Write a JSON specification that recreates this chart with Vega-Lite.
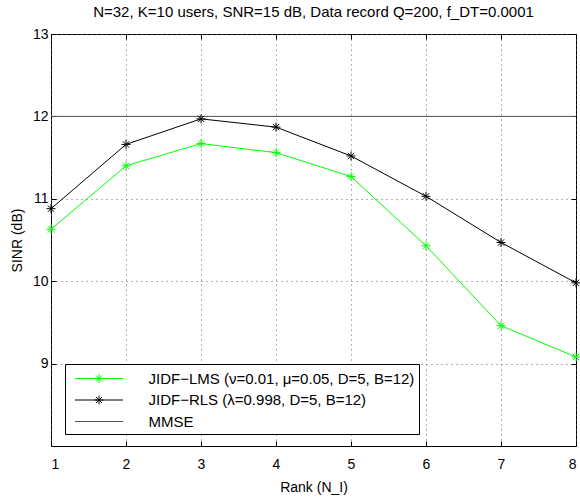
{
  "$schema": "https://vega.github.io/schema/vega-lite/v6.json",
  "width": 525,
  "height": 412,
  "autosize": {"type": "none"},
  "padding": {"left": 51, "top": 34, "right": 4, "bottom": 53},
  "background": "white",
  "title": {
    "text": "N=32, K=10 users, SNR=15 dB, Data record Q=200, f_DT=0.0001",
    "font": "Liberation Sans",
    "fontSize": 15,
    "fontWeight": "normal",
    "color": "black",
    "anchor": "middle",
    "offset": 7
  },
  "config": {
    "font": "Liberation Sans",
    "view": {"stroke": "black", "strokeWidth": 1},
    "axis": {
      "labelFont": "Liberation Sans",
      "labelFontSize": 14,
      "labelColor": "black",
      "titleFont": "Liberation Sans",
      "titleFontSize": 14,
      "titleFontWeight": "normal",
      "titleColor": "black",
      "domain": false,
      "tickColor": "black",
      "tickSize": -5,
      "gridColor": "#666666",
      "gridDash": [1, 4],
      "gridOpacity": 1,
      "gridWidth": 1
    }
  },
  "data": {
    "values": [
      {"rank": 1, "series": "JIDF−LMS (ν=0.01, μ=0.05, D=5, B=12)", "v": 10.63},
      {"rank": 2, "series": "JIDF−LMS (ν=0.01, μ=0.05, D=5, B=12)", "v": 11.40},
      {"rank": 3, "series": "JIDF−LMS (ν=0.01, μ=0.05, D=5, B=12)", "v": 11.67},
      {"rank": 4, "series": "JIDF−LMS (ν=0.01, μ=0.05, D=5, B=12)", "v": 11.56},
      {"rank": 5, "series": "JIDF−LMS (ν=0.01, μ=0.05, D=5, B=12)", "v": 11.27},
      {"rank": 6, "series": "JIDF−LMS (ν=0.01, μ=0.05, D=5, B=12)", "v": 10.43},
      {"rank": 7, "series": "JIDF−LMS (ν=0.01, μ=0.05, D=5, B=12)", "v": 9.46},
      {"rank": 8, "series": "JIDF−LMS (ν=0.01, μ=0.05, D=5, B=12)", "v": 9.08},
      {"rank": 1, "series": "JIDF−RLS (λ=0.998, D=5, B=12)", "v": 10.88},
      {"rank": 2, "series": "JIDF−RLS (λ=0.998, D=5, B=12)", "v": 11.66},
      {"rank": 3, "series": "JIDF−RLS (λ=0.998, D=5, B=12)", "v": 11.97},
      {"rank": 4, "series": "JIDF−RLS (λ=0.998, D=5, B=12)", "v": 11.87},
      {"rank": 5, "series": "JIDF−RLS (λ=0.998, D=5, B=12)", "v": 11.52},
      {"rank": 6, "series": "JIDF−RLS (λ=0.998, D=5, B=12)", "v": 11.03},
      {"rank": 7, "series": "JIDF−RLS (λ=0.998, D=5, B=12)", "v": 10.47},
      {"rank": 8, "series": "JIDF−RLS (λ=0.998, D=5, B=12)", "v": 9.98},
      {"rank": 1, "series": "MMSE", "v": 12.0},
      {"rank": 8, "series": "MMSE", "v": 12.0}
    ]
  },
  "layer": [
    {
      "mark": {"type": "line", "strokeWidth": 1},
      "encoding": {
        "x": {
          "field": "rank",
          "type": "quantitative",
          "scale": {"domain": [1, 8], "nice": false, "zero": false},
          "axis": {"values": [1, 2, 3, 4, 5, 6, 7, 8], "format": "d", "title": "Rank (N_I)", "grid": true, "labelPadding": 16, "titlePadding": 9}
        },
        "y": {
          "field": "v",
          "type": "quantitative",
          "scale": {"domain": [8, 13], "nice": false, "zero": false},
          "axis": {"values": [9, 10, 11, 12, 13], "format": "d", "title": "SINR (dB)", "grid": true, "labelPadding": 8, "titlePadding": 8}
        },
        "color": {
          "field": "series",
          "type": "nominal",
          "scale": {
            "domain": ["JIDF−LMS (ν=0.01, μ=0.05, D=5, B=12)", "JIDF−RLS (λ=0.998, D=5, B=12)", "MMSE"],
            "range": ["#00ff00", "#000000", "#555555"]
          },
          "legend": {
            "orient": "none",
            "legendX": 14,
            "legendY": 330,
            "title": null,
            "fillColor": "white",
            "strokeColor": "black",
            "padding": 4,
            "cornerRadius": 0,
            "labelFont": "Liberation Sans",
            "labelFontSize": 15,
            "labelColor": "black",
            "labelLimit": 500,
            "symbolSize": 369,
            "symbolStrokeWidth": 1,
            "symbolOffset": 19.5,
            "labelOffset": 39,
            "rowPadding": 2.5,
            "symbolType": "M-2.5,0L2.5,0",
            "encode": {
              "symbols": {
                "update": {
                  "shape": {"signal": "indexof(datum.value, 'MMSE') >= 0 ? 'M-2.5,0L2.5,0' : 'M-2.5,0L2.5,0M-0.45,0L0.45,0M0,-0.45L0,0.45M-0.32,-0.32L0.32,0.32M-0.32,0.32L0.32,-0.32'"}
                }
              }
            }
          }
        }
      }
    },
    {
      "transform": [{"filter": "datum.series !== 'MMSE'"}],
      "mark": {
        "type": "point",
        "shape": "M-1,0L1,0M0,-1L0,1M-0.7,-0.7L0.7,0.7M-0.7,0.7L0.7,-0.7",
        "filled": false,
        "size": 81,
        "strokeWidth": 1,
        "opacity": 1
      },
      "encoding": {
        "x": {"field": "rank", "type": "quantitative", "axis": null},
        "y": {"field": "v", "type": "quantitative", "axis": null},
        "color": {
          "condition": {"test": "indexof(datum.series, 'LMS') >= 0", "value": "#00ff00"},
          "value": "#000000"
        }
      }
    },
    {
      "mark": {"type": "point", "opacity": 0},
      "encoding": {
        "x": {
          "field": "rank",
          "type": "quantitative",
          "axis": {"orient": "top", "values": [1, 2, 3, 4, 5, 6, 7, 8], "labels": false, "title": null, "grid": false}
        },
        "y": {
          "field": "v",
          "type": "quantitative",
          "axis": {"orient": "right", "values": [9, 10, 11, 12, 13], "labels": false, "title": null, "grid": false}
        }
      }
    }
  ],
  "resolve": {"axis": {"x": "independent", "y": "independent"}}
}
